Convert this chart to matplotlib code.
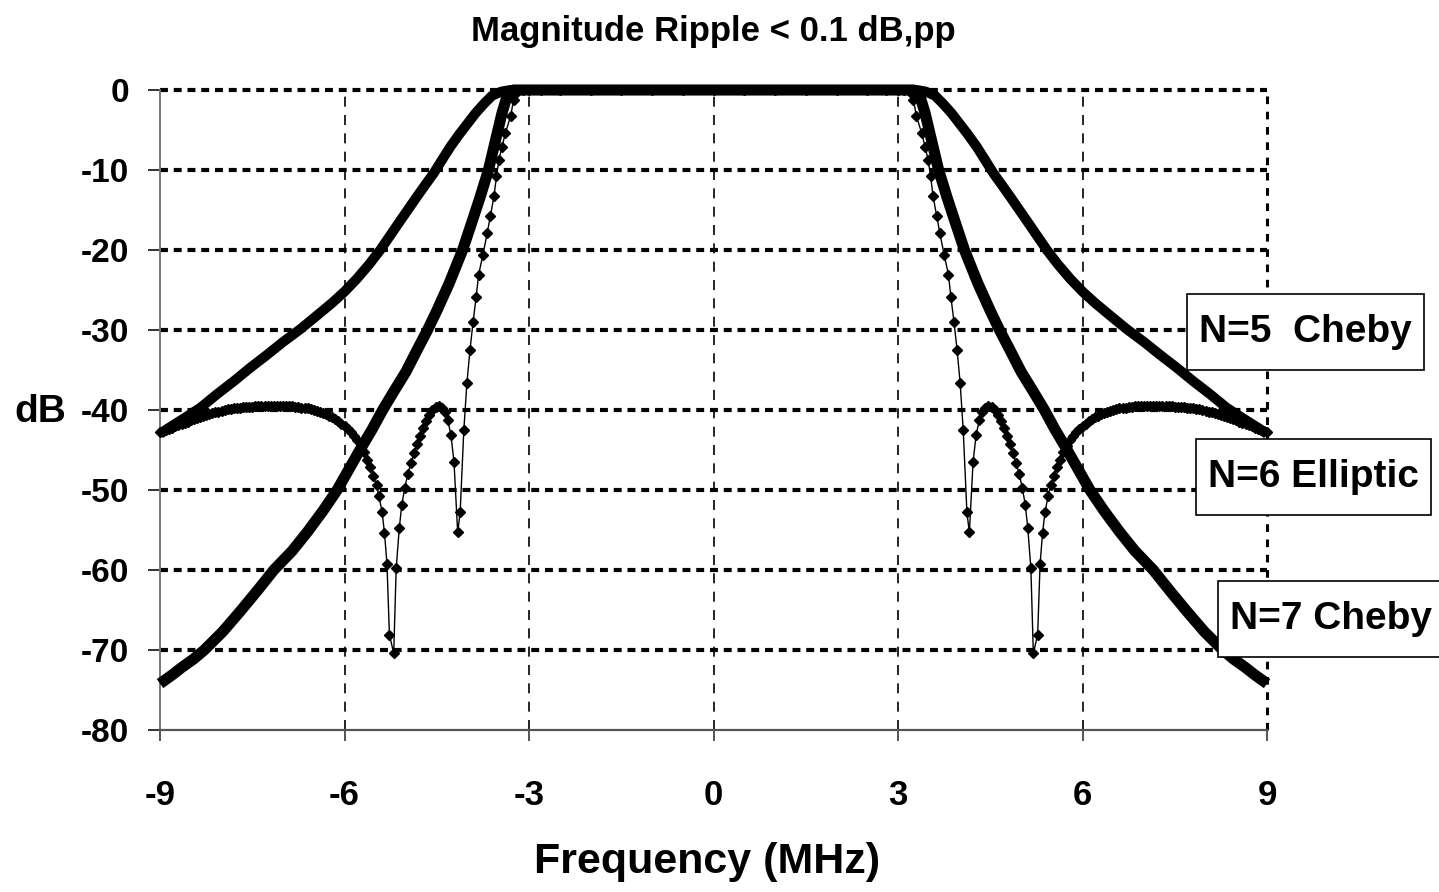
import numpy as np
import matplotlib
matplotlib.use('Agg')
from matplotlib import pyplot as plt
from matplotlib import font_manager
from matplotlib.patches import Rectangle
from matplotlib.transforms import IdentityTransform

plt.rcParams['font.family'] = 'Liberation Sans'
plt.rcParams['axes.unicode_minus'] = False

# positive-frequency half of each response (MHz, dB) - the plot is symmetric about 0
f_n5 = [0, 1, 2, 3, 3.3, 3.45, 3.6, 3.73, 3.87, 4.0, 4.14, 4.28, 4.42, 4.55, 4.7, 4.82,
        4.95, 5.09, 5.25, 5.42, 5.6, 5.8, 6.0, 6.2, 6.45, 6.72, 7.0, 7.26, 7.53, 7.8,
        8.07, 8.34, 8.6, 8.89, 9.0]
db_n5 = [0, 0, 0, 0, 0, -0.2, -0.7, -1.7, -2.9, -4.2, -5.6, -7.1, -8.8, -10.4, -12.0, -13.3,
         -14.75, -16.3, -18.1, -20.0, -21.8, -23.6, -25.2, -26.6, -28.2, -29.9, -31.5, -33.1, -34.7, -36.4,
         -38.0, -39.7, -41.0, -42.4, -43.0]

f_n7 = [0, 1, 2, 3, 3.25, 3.35, 3.44, 3.57, 3.66, 3.8, 3.95, 4.08, 4.3, 4.5, 4.65,
        4.8, 5.0, 5.2, 5.38, 5.55, 5.75, 5.95, 6.12, 6.35, 6.6, 6.85, 7.15, 7.42, 7.7,
        7.98, 8.28, 8.45, 8.65, 8.8, 9.0]
db_n7 = [0, 0, 0, 0, 0, -0.6, -2.9, -7.1, -10.0, -13.5, -17.0, -20.0, -24.2, -27.6, -30.0,
         -32.2, -35.2, -37.7, -40.0, -42.4, -45.0, -47.7, -50.0, -52.6, -55.2, -57.6, -60.0, -62.6, -65.2,
         -67.7, -70.0, -71.1, -72.2, -73.1, -74.2]

f_ell = [0, 0.5, 1.0, 1.5, 2.0, 2.5, 2.8, 3.0, 3.1, 3.2, 3.25, 3.30,
         3.385, 3.44, 3.49, 3.53, 3.57, 3.63, 3.68, 3.75, 3.82,
         3.86, 3.91, 3.96, 4.01, 4.06, 4.12, 4.16, 4.22, 4.27,
         4.32, 4.37, 4.42, 4.47, 4.52, 4.57, 4.62, 4.67, 4.72, 4.77, 4.82, 4.87, 4.92, 4.97,
         5.02, 5.07, 5.11, 5.16, 5.20,
         5.27, 5.31, 5.35, 5.39, 5.44, 5.48, 5.53, 5.58, 5.63, 5.68, 5.74,
         5.80, 5.85, 5.90, 5.95, 6.00, 6.05, 6.10, 6.15, 6.20, 6.25,
         6.30, 6.35, 6.40, 6.45, 6.50, 6.55, 6.60, 6.65, 6.70, 6.75,
         6.80, 6.85, 6.90, 6.95, 7.00, 7.05, 7.10, 7.15, 7.20, 7.25,
         7.30, 7.35, 7.40, 7.45, 7.50, 7.55, 7.60, 7.65, 7.70, 7.75,
         7.80, 7.85, 7.90, 7.95, 8.00, 8.05, 8.10, 8.15, 8.20, 8.25,
         8.30, 8.35, 8.40, 8.45, 8.50, 8.55, 8.60, 8.65, 8.70, 8.75,
         8.80, 8.85, 8.90, 8.95, 9.00]
db_ell = [0, 0, 0, 0, 0, 0, 0, 0, -0.05, -0.3, -1.2, -3.3,
          -5.4, -7.1, -8.75, -10.8, -13.3, -15.8, -17.9, -20.6, -23.1,
          -25.9, -29.0, -32.5, -36.6, -42.5, -52.8, -55.3, -46.5, -43.1,
          -41.3, -40.2, -39.7, -39.5, -39.6, -40.0, -40.6, -41.4, -42.3, -43.3, -44.3, -45.4, -46.6, -48.0,
          -49.7, -51.9, -54.8, -59.8, -70.4,
          -68.1, -59.2, -55.4, -52.7, -50.8, -49.4, -48.2, -47.1, -46.2, -45.3, -44.5,
          -43.8, -43.3, -42.8, -42.4, -42.0, -41.7, -41.4, -41.1, -40.9, -40.7,
          -40.5, -40.35, -40.2, -40.1, -40.0, -39.9, -39.8, -39.75, -39.7, -39.65,
          -39.6, -39.55, -39.5, -39.5, -39.5, -39.5, -39.5, -39.5, -39.5, -39.5,
          -39.5, -39.5, -39.5, -39.5, -39.6, -39.6, -39.6, -39.65, -39.7, -39.75,
          -39.8, -39.85, -39.9, -40.0, -40.1, -40.2, -40.3, -40.4, -40.5, -40.65,
          -40.8, -40.9, -41.0, -41.15, -41.3, -41.45, -41.6, -41.75, -41.9, -42.05,
          -42.2, -42.35, -42.5, -42.65, -42.8]

x_ticks = [-9, -6, -3, 0, 3, 6, 9]
y_ticks = [0, -10, -20, -30, -40, -50, -60, -70, -80]
labels = ['N=5  Cheby', 'N=6 Elliptic', 'N=7 Cheby']
label_xy = [(9.63, -30.2), (9.75, -48.4), (10.04, -66.1)]

# Arial-Narrow look-alike if present, otherwise plain bold at a smaller size
names = {f.name for f in font_manager.fontManager.ttflist}
if 'Liberation Sans Narrow' in names:
    NARROW, XT_SIZE, XL_SIZE = 'Liberation Sans Narrow', 28, 35
else:
    NARROW, XT_SIZE, XL_SIZE = 'Liberation Sans', 25, 31


def mirror(f, db):
    f = np.asarray(f, dtype=float)
    db = np.asarray(db, dtype=float)
    return np.concatenate([-f[::-1], f[1:]]), np.concatenate([db[::-1], db[1:]])


fig = plt.figure(figsize=(14.39, 8.92), dpi=100)
ax = fig.add_axes([0.1112, 0.1816, 0.7693, 0.7175])
ax.set_xlim(-9, 9)
ax.set_ylim(-80, 0)

# grid: heavy dotted horizontals, light dashed verticals, heavier border at 9
for y in y_ticks[:-1]:
    ax.axhline(y, color='black', lw=3.0, linestyle=(0, (1.9, 1.4)), zorder=1, clip_on=False)
for x in x_ticks[1:-1]:
    ax.axvline(x, color='black', lw=1.2, linestyle=(0, (6, 5)), zorder=1)
ax.axvline(9, color='black', lw=2.2, linestyle=(0, (2.5, 2.5)), zorder=1, clip_on=False)

x, y = mirror(f_n5, db_n5)
ax.plot(x, y, color='black', lw=7.2, solid_capstyle='butt', solid_joinstyle='round',
        clip_on=False, zorder=3)
x, y = mirror(f_n7, db_n7)
ax.plot(x, y, color='black', lw=8, solid_capstyle='butt', solid_joinstyle='round',
        clip_on=False, zorder=3)
x, y = mirror(f_ell, db_ell)
ax.plot(x, y, color='black', lw=1, marker='D', ms=5, clip_on=False, zorder=4)

for sp in ['top', 'right']:
    ax.spines[sp].set_visible(False)
ax.spines['left'].set_color('#777777')
ax.spines['left'].set_linewidth(1.4)
ax.spines['bottom'].set_color('#555555')
ax.spines['bottom'].set_linewidth(1.6)

ax.set_xticks(x_ticks)
ax.set_xticklabels([str(t) for t in x_ticks], fontsize=XT_SIZE, fontweight='bold', family=NARROW)
ax.set_yticks(y_ticks)
ax.set_yticklabels([str(t) for t in y_ticks], fontsize=24, fontweight='bold')
ax.tick_params(axis='y', direction='out', length=9, width=1.4, color='#333333', pad=13)
ax.tick_params(axis='x', direction='out', length=8, width=1.4, color='#555555', pad=27)

ax.set_title('Magnitude Ripple < 0.1 dB,pp', fontsize=25, fontweight='bold', pad=35)

ax.set_ylabel('dB', rotation=0, fontsize=28, fontweight='bold', ha='center', va='center')
ax.yaxis.set_label_coords(-0.108, 0.497)
ax.set_xlabel('Frequency (MHz)', fontsize=XL_SIZE, fontweight='bold', family=NARROW, va='center')
ax.xaxis.set_label_coords(0.494, -0.206)

texts = []
for (lx, ly), s in zip(label_xy, labels):
    texts.append(ax.text(lx, ly, s, fontsize=28, fontweight='bold', ha='center', va='center',
                         clip_on=False, zorder=6))

# boxes round the labels: more vertical room than horizontal, like the original
fig.canvas.draw()
renderer = fig.canvas.get_renderer()
for t in texts:
    bb = t.get_window_extent(renderer)
    hpad = 12
    vpad = (76 - bb.height) / 2
    ax.add_patch(Rectangle((bb.x0 - hpad, bb.y0 - vpad), bb.width + 2 * hpad, bb.height + 2 * vpad,
                           transform=IdentityTransform(), fc='white', ec='black', lw=1.2,
                           clip_on=False, zorder=5))

fig.savefig('out.png', dpi=100)
